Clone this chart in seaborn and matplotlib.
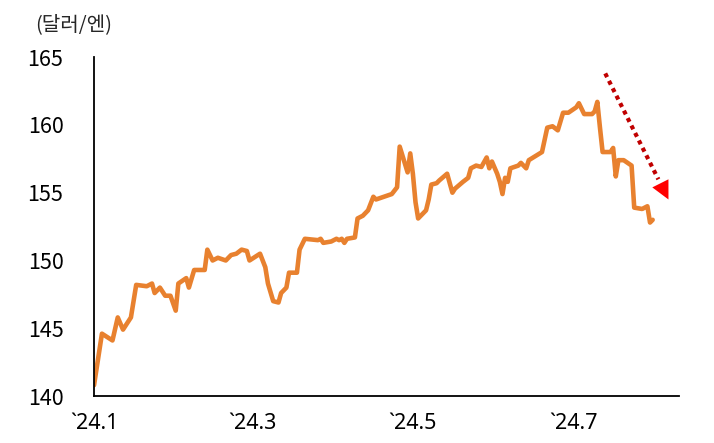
import pandas as pd
import matplotlib
matplotlib.use('Agg')
import matplotlib.pyplot as plt
import matplotlib.dates as mdates
import seaborn as sns

# ─────────────────────────────────────────────
# Data — USD/JPY
# ─────────────────────────────────────────────
dates = [
    '2024-01-01', '2024-01-04', '2024-01-08', '2024-01-10', '2024-01-12', '2024-01-15',
    '2024-01-17', '2024-01-21', '2024-01-23', '2024-01-24', '2024-01-26', '2024-01-28',
    '2024-01-30', '2024-02-01', '2024-02-02', '2024-02-05', '2024-02-06', '2024-02-08',
    '2024-02-12', '2024-02-13', '2024-02-15', '2024-02-17', '2024-02-20', '2024-02-22',
    '2024-02-24', '2024-02-26', '2024-02-28', '2024-02-29', '2024-03-04', '2024-03-06',
    '2024-03-07', '2024-03-09', '2024-03-11', '2024-03-12', '2024-03-14', '2024-03-15',
    '2024-03-18', '2024-03-19', '2024-03-21', '2024-03-26', '2024-03-27', '2024-03-28',
    '2024-03-31', '2024-04-02', '2024-04-03', '2024-04-04', '2024-04-05', '2024-04-06',
    '2024-04-09', '2024-04-10', '2024-04-12', '2024-04-14', '2024-04-16', '2024-04-17',
    '2024-04-20', '2024-04-23', '2024-04-25', '2024-04-26', '2024-04-29', '2024-04-30',
    '2024-05-01', '2024-05-02', '2024-05-03', '2024-05-06', '2024-05-07', '2024-05-08',
    '2024-05-10', '2024-05-11', '2024-05-14', '2024-05-16', '2024-05-17', '2024-05-20',
    '2024-05-22', '2024-05-23', '2024-05-25', '2024-05-27', '2024-05-29', '2024-05-30',
    '2024-05-31', '2024-06-02', '2024-06-03', '2024-06-04', '2024-06-05', '2024-06-06',
    '2024-06-07', '2024-06-10', '2024-06-11', '2024-06-13', '2024-06-14', '2024-06-19',
    '2024-06-21', '2024-06-23', '2024-06-25', '2024-06-27', '2024-06-29', '2024-07-02',
    '2024-07-03', '2024-07-05', '2024-07-08', '2024-07-09', '2024-07-10', '2024-07-11',
    '2024-07-12', '2024-07-15', '2024-07-16', '2024-07-17', '2024-07-18', '2024-07-20',
    '2024-07-23', '2024-07-24', '2024-07-27', '2024-07-29', '2024-07-30', '2024-07-31',
]
usdjpy = [
    140.8, 144.6, 144.1, 145.8, 144.9, 145.8,
    148.2, 148.1, 148.3, 147.6, 148.0, 147.4,
    147.4, 146.3, 148.3, 148.7, 148.0, 149.3,
    149.3, 150.8, 150.0, 150.2, 150.0, 150.4,
    150.5, 150.8, 150.7, 150.0, 150.5, 149.5,
    148.3, 147.0, 146.9, 147.6, 148.0, 149.1,
    149.1, 150.8, 151.6, 151.5, 151.6, 151.3,
    151.4, 151.6, 151.5, 151.6, 151.3, 151.6,
    151.7, 153.1, 153.3, 153.7, 154.7, 154.5,
    154.7, 154.9, 155.4, 158.4, 156.5, 157.9,
    156.4, 154.3, 153.1, 153.7, 154.5, 155.6,
    155.7, 155.9, 156.4, 155.0, 155.3, 155.8,
    156.1, 156.8, 157.0, 156.9, 157.6, 156.8,
    157.3, 156.4, 155.8, 154.9, 156.1, 155.8,
    156.8, 157.0, 157.2, 156.8, 157.4, 158.0,
    159.8, 159.9, 159.6, 160.9, 160.9, 161.3,
    161.6, 160.8, 160.8, 161.0, 161.7, 159.8,
    158.0, 158.0, 158.3, 156.2, 157.4, 157.4,
    157.0, 153.9, 153.8, 154.0, 152.8, 153.0,
]

tick_dates  = ['2024-01-01', '2024-03-01', '2024-05-01', '2024-07-01']
tick_labels = ['`24.1', '`24.3', '`24.5', '`24.7']
y_ticks     = [140, 145, 150, 155, 160, 165]
unit_label  = '(달러/엔)'

# trend arrow (start, end) in data coords
arrow_start = ('2024-07-13', 163.8)
arrow_end   = ('2024-08-06', 154.5)

df = pd.DataFrame({'date': pd.to_datetime(dates), 'usdjpy': usdjpy})

# ─────────────────────────────────────────────
# Plot
# ─────────────────────────────────────────────
sns.set_style('white')
plt.rcParams['font.family'] = ['Noto Sans CJK KR', 'DejaVu Sans']

fig = plt.figure(figsize=(7.14, 4.43), dpi=100)
ax = fig.add_axes([0.1317, 0.106, 0.8193, 0.765])

sns.lineplot(data=df, x='date', y='usdjpy', ax=ax, color='#E8812F', lw=3.3,
             solid_joinstyle='round', solid_capstyle='round')

# dotted trend arrow
x0, y0 = mdates.date2num(pd.Timestamp(arrow_start[0])), arrow_start[1]
x1, y1 = mdates.date2num(pd.Timestamp(arrow_end[0])), arrow_end[1]
fx = x0 + (x1 - x0) * 0.84
fy = y0 + (y1 - y0) * 0.84
ax.plot([x0, fx], [y0, fy], linestyle=(0, (1, 1.0)), color='#C00000', lw=3)
ax.annotate('', xy=(x1, y1), xytext=(fx, fy),
            arrowprops=dict(arrowstyle='-|>,head_length=1.3,head_width=0.65',
                            color='#FF0000', lw=0, shrinkA=0, shrinkB=0))

ax.set_ylim(140, 165)
ax.set_xlim(pd.Timestamp('2024-01-01'), pd.Timestamp('2024-08-10'))
ax.set_yticks(y_ticks)
ax.set_xticks(pd.to_datetime(tick_dates))
ax.set_xticklabels(tick_labels, family=['Noto Sans', 'DejaVu Sans'])

ax.set_xlabel('')
ax.set_ylabel('')
for s in ['top', 'right']:
    ax.spines[s].set_visible(False)
for s in ['left', 'bottom']:
    ax.spines[s].set_color('black')
    ax.spines[s].set_linewidth(1.3)

ax.tick_params(axis='y', direction='in', length=5, width=1.3, pad=22,
               labelsize=15.5, colors='black')
ax.tick_params(axis='x', direction='in', length=5, width=1.3, pad=12,
               labelsize=15.5, colors='black')

fig.text(0.049, 0.945, unit_label, fontsize=14.5, ha='left', va='center')

plt.savefig('out.png', dpi=100)
plt.close()
